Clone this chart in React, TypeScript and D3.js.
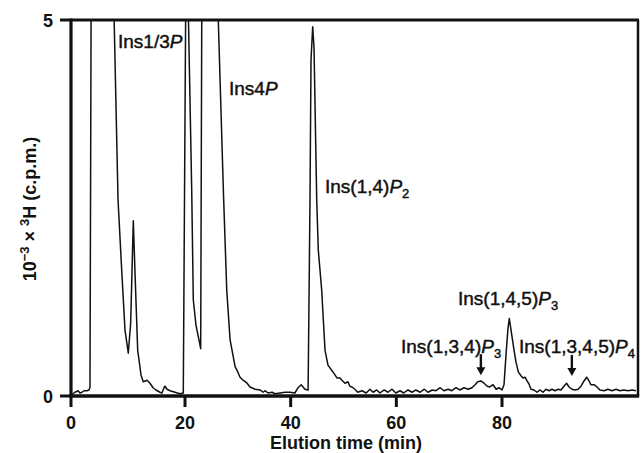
import React from 'react';
import * as d3 from 'd3';

// Elution profile (min) and 10^-3 x 3H c.p.m.; values > 5 are off-scale peaks
const elutionTime = [
  0, 0.35, 0.7, 1.23, 1.58, 1.93, 2.28, 2.8, 3.16, 3.33, 3.6, 7.0, 8.25, 8.89, 9.47, 10.05,
  10.47, 10.93, 11.23, 11.7, 12.28, 12.68, 13.33, 13.86, 14.39, 14.91, 15.61, 15.96, 16.32,
  16.49, 16.84, 17.37, 18.25, 19.12, 19.7, 20.25, 21.27, 21.57, 22.08, 22.52, 22.97, 23.26,
  25.45, 27.29, 27.9, 28.53, 29.48, 29.99, 30.42, 30.99, 31.75, 32.3, 33.27, 34.2, 34.8, 35.2,
  35.7, 36.5, 37.0, 38.0, 38.9, 39.9, 40.8, 41.4, 42.0, 42.7, 43.3, 43.66, 43.85, 44.17, 44.42,
  44.93, 45.23, 45.87, 46.5, 47.06, 48.0, 48.76, 49.33, 49.7, 50.28, 50.85, 51.2, 51.6, 52.15,
  52.7, 53.5, 54.3, 55.0, 55.6, 56.3, 56.9, 57.7, 58.4, 59.2, 59.9, 60.7, 61.4, 62.2, 63.0,
  63.7, 64.5, 65.3, 66.0, 66.8, 67.5, 68.3, 69.0, 69.8, 70.5, 71.3, 72.0, 72.8, 73.6, 74.3,
  74.9, 75.4, 76.0, 76.6, 77.2, 77.7, 78.3, 78.9, 79.4, 80.0, 80.38, 80.76, 81.13, 81.38, 81.7,
  82.27, 82.65, 83.08, 83.59, 83.97, 84.35, 84.73, 85.1, 85.48, 86.05, 86.6, 87.2, 87.75, 88.3,
  88.9, 89.45, 90.0, 90.6, 91.15, 91.7, 92.2, 92.67, 93.2, 93.8, 94.37, 94.93, 95.5, 96.0,
  96.45, 96.8, 97.4, 97.96, 98.5, 99.3, 100.0, 100.8, 101.55, 102.3, 103.0, 103.8, 104.6, 105.3,
];
const radioactivity = [
  0.01, 0.03, 0.05, 0.07, 0.04, 0.05, 0.07, 0.07, 0.08, 0.12, 7, 7, 2.61, 1.68, 0.88, 0.57,
  0.97, 2.33, 1.64, 0.61, 0.28, 0.19, 0.21, 0.17, 0.11, 0.08, 0.05, 0.04, 0.11,
  0.13, 0.09, 0.07, 0.05, 0.03, 0.04, 6.5, 2.74, 1.28, 0.94, 0.79, 0.63, 7,
  7, 2.67, 1.41, 0.75, 0.39, 0.32, 0.25, 0.21, 0.17, 0.12, 0.09, 0.08, 0.05, 0.07,
  0.04, 0.05, 0.03, 0.04, 0.05, 0.05, 0.04, 0.11, 0.15, 0.09, 0.08, 2.61, 4.47, 4.91, 4.63,
  2.61, 1.94, 1.41, 0.61, 0.41, 0.32, 0.24, 0.24, 0.21, 0.17, 0.19, 0.13, 0.12, 0.09,
  0.05, 0.07, 0.04, 0.09, 0.05, 0.08, 0.04, 0.08, 0.05, 0.09, 0.04, 0.07, 0.04, 0.08, 0.05,
  0.08, 0.05, 0.09, 0.05, 0.08, 0.07, 0.11, 0.07, 0.09, 0.07, 0.11, 0.08, 0.11, 0.09, 0.11,
  0.15, 0.19, 0.2, 0.17, 0.13, 0.12, 0.15, 0.09, 0.11, 0.08, 0.15, 0.55, 0.9, 1.03, 0.88,
  0.61, 0.45, 0.32, 0.27, 0.24, 0.25, 0.2, 0.16, 0.09, 0.08, 0.05, 0.08, 0.05, 0.09,
  0.07, 0.09, 0.07, 0.09, 0.08, 0.13, 0.17, 0.12, 0.09, 0.08, 0.09, 0.13, 0.2, 0.25,
  0.2, 0.15, 0.15, 0.12, 0.08, 0.07, 0.09, 0.07, 0.09, 0.07, 0.08, 0.07, 0.08, 0.07,
];
const xTickValues = [0, 20, 40, 60, 80];
const yTickValues = [0, 5];
const arrowTimes = [76.0, 93.2];
const arrowTipValue = [0.25, 0.24];

const FONT = '"Liberation Sans", Arial, Helvetica, sans-serif';

export default function App() {
  const left = 71, right = 638, top = 20, bottom = 396;
  // axis as printed (the original's tick spacing is not quite uniform)
  const x = d3.scaleLinear().domain([0, 20, 80, 105.7]).range([left, 185, 502, right]);
  const y = d3.scaleLinear().domain([0, 5]).range([bottom, top]);
  const data = elutionTime.map((t, i) => ({ t, v: radioactivity[i] }));
  const line = d3.line<{ t: number; v: number }>().x(d => x(d.t)).y(d => y(d.v));

  const annFont = 19;
  const Ann = ({ tx, ty, parts }: { tx: number; ty: number; parts: [string, string?] }) => (
    <text x={tx} y={ty} fontFamily={FONT} fontSize={annFont} fill="#111" stroke="#111" strokeWidth={0.45}>
      {parts[0]}
      <tspan fontStyle="italic">P</tspan>
      {parts[1] ? (
        <tspan fontSize={13} dy={5}>{parts[1]}</tspan>
      ) : null}
    </text>
  );

  return (
    <svg width={642} height={453} style={{ position: 'absolute', left: 0, top: 0, background: '#fff' }}>
      <defs>
        <clipPath id="plotclip">
          <rect x={left} y={top} width={right - left} height={bottom - top} />
        </clipPath>
      </defs>
      <rect x={0} y={0} width={642} height={453} fill="#fff" />
      <path d={line(data) || ''} fill="none" stroke="#111" strokeWidth={1.5} strokeLinejoin="round" clipPath="url(#plotclip)" />

      {/* frame */}
      <line x1={left} x2={right + 1} y1={top} y2={top} stroke="#111" strokeWidth={3} />
      <line x1={right} x2={right} y1={top} y2={bottom} stroke="#111" strokeWidth={2.5} />
      <line x1={left} x2={left} y1={top - 1.5} y2={bottom + 1.5} stroke="#111" strokeWidth={3.2} />
      <line x1={left - 1.5} x2={right + 1.2} y1={bottom} y2={bottom} stroke="#111" strokeWidth={3.5} />

      {/* y ticks */}
      {yTickValues.map(v => (
        <g key={'y' + v}>
          <line x1={left - 11} x2={left} y1={y(v)} y2={y(v)} stroke="#111" strokeWidth={3} />
          <text x={53} y={y(v) + 6.5} textAnchor="end" fontFamily={FONT} fontWeight="bold" fontSize={18} fill="#111">{v}</text>
        </g>
      ))}
      {/* x ticks */}
      {xTickValues.map(t => (
        <g key={'x' + t}>
          <line x1={x(t)} x2={x(t)} y1={bottom} y2={bottom + 11} stroke="#111" strokeWidth={3} />
          <text x={x(t)} y={429} textAnchor="middle" fontFamily={FONT} fontWeight="bold" fontSize={18} fill="#111">{t}</text>
        </g>
      ))}

      {/* axis titles */}
      <text x={270} y={449} fontFamily={FONT} fontWeight="bold" fontSize={18} fill="#111">Elution time (min)</text>
      <text transform="translate(36,209) rotate(-90)" textAnchor="middle" fontFamily={FONT} fontWeight="bold" fontSize={18} fill="#111">
        10<tspan fontSize={13} dy={-7}>−3</tspan>
        <tspan dy={7}> × </tspan>
        <tspan fontSize={13} dy={-7}>3</tspan>
        <tspan dy={7}>H (c.p.m.)</tspan>
      </text>

      {/* peak labels */}
      <Ann tx={118} ty={48} parts={['Ins1/3']} />
      <Ann tx={229} ty={95} parts={['Ins4']} />
      <Ann tx={325} ty={193} parts={['Ins(1,4)', '2']} />
      <Ann tx={458} ty={305} parts={['Ins(1,4,5)', '3']} />
      <Ann tx={401} ty={353} parts={['Ins(1,3,4)', '3']} />
      <Ann tx={519} ty={353} parts={['Ins(1,3,4,5)', '4']} />

      {/* arrows */}
      {arrowTimes.map((t, i) => {
        const ax = x(t);
        const tip = y(arrowTipValue[i]) - 2;
        return (
          <g key={'a' + i}>
            <line x1={ax} x2={ax} y1={tip - 21} y2={tip - 6} stroke="#111" strokeWidth={2.4} />
            <polygon points={`${ax - 4.5},${tip - 8} ${ax + 4.5},${tip - 8} ${ax},${tip}`} fill="#111" />
          </g>
        );
      })}
    </svg>
  );
}
